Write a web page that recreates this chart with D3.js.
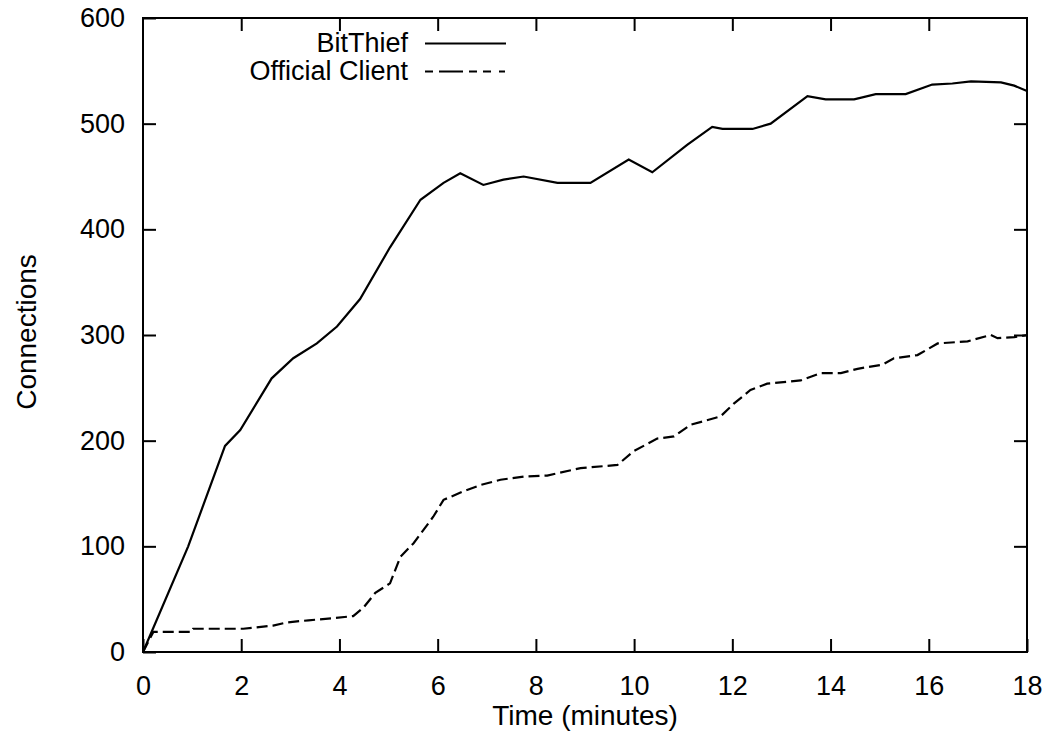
<!DOCTYPE html>
<html>
<head>
<meta charset="utf-8">
<script src="https://cdn.jsdelivr.net/npm/d3@7"></script>
<style>
  html, body { margin: 0; padding: 0; background: #fff; }
  svg { display: block; }
  text { font-family: "Liberation Sans", Arial, Helvetica, sans-serif; fill: #000; }
</style>
</head>
<body>
<svg id="chart" width="1048" height="736"></svg>
<script>
// ---- Data ----
const bitThiefTime = [0, 0.92, 1.67, 1.98, 2.62, 3.06, 3.54, 3.95, 4.42, 5.03, 5.65, 6.12, 6.46, 6.93, 7.34, 7.75, 8.44, 9.11, 9.89, 10.37, 11.08, 11.59, 11.80, 12.41, 12.78, 13.53, 13.90, 14.48, 14.92, 15.53, 16.07, 16.48, 16.86, 17.47, 17.74, 18.0];
const bitThiefConn = [0, 100, 195, 210, 259, 278, 292, 308, 334, 383, 428, 444, 453, 442, 447, 450, 444, 444, 466, 454, 480, 497, 495, 495, 500, 526, 523, 523, 528, 528, 537, 538, 540, 539, 536, 531];

const officialTime = [0, 0.21, 0.99, 1.02, 2.04, 2.65, 2.93, 3.37, 3.88, 4.28, 4.49, 4.73, 5.03, 5.24, 5.51, 5.91, 6.12, 6.52, 6.87, 7.28, 7.75, 8.23, 8.91, 9.66, 9.99, 10.47, 10.81, 11.15, 11.76, 12.03, 12.37, 12.71, 13.39, 13.80, 14.21, 14.55, 15.06, 15.29, 15.77, 16.18, 16.79, 17.26, 17.40, 17.74, 18.0];
const officialConn = [0, 19, 19, 22, 22, 25, 28, 30, 32, 34, 42, 56, 65, 90, 103, 128, 144, 152, 158, 163, 166, 167, 174, 177, 190, 202, 204, 215, 223, 235, 248, 254, 257, 264, 264, 268, 272, 278, 281, 292, 294, 300, 297, 298, 300];

const xTicks = [0, 2, 4, 6, 8, 10, 12, 14, 16, 18];
const yTicks = [0, 100, 200, 300, 400, 500, 600];
const seriesNames = ["BitThief", "Official Client"];
const xLabel = "Time (minutes)";
const yLabel = "Connections";

// ---- Layout ----
const W = 1048, H = 736;
const margin = { left: 143, right: 21, top: 18, bottom: 84 };
const iw = W - margin.left - margin.right;
const ih = H - margin.top - margin.bottom;
const tickLen = 13;
const fontSize = 27;

const svg = d3.select("#chart");
const g = svg.append("g").attr("transform", `translate(${margin.left},${margin.top})`);

const x = d3.scaleLinear().domain([0, 18]).range([0, iw]);
const y = d3.scaleLinear().domain([0, 600]).range([ih, 0]);

function styleAxis(sel, showLabels) {
  sel.select(".domain").remove();
  sel.selectAll(".tick line").attr("stroke", "#000").attr("stroke-width", 2);
  sel.selectAll(".tick text")
    .style("font-size", fontSize + "px")
    .style("font-family", '"Liberation Sans", Arial, sans-serif')
    .attr("fill", "#000");
  if (!showLabels) sel.selectAll(".tick text").remove();
}

// bottom axis (ticks inward)
g.append("g").attr("transform", `translate(0,${ih})`)
  .call(d3.axisBottom(x).tickValues(xTicks).tickSize(-tickLen).tickPadding(tickLen + 11).tickFormat(d3.format("d")))
  .call(s => styleAxis(s, true));
// top axis mirror
g.append("g")
  .call(d3.axisTop(x).tickValues(xTicks.slice(1, -1)).tickSize(-tickLen))
  .call(s => styleAxis(s, false));
// left axis
g.append("g")
  .call(d3.axisLeft(y).tickValues(yTicks).tickSize(-tickLen).tickPadding(tickLen + 5).tickFormat(d3.format("d")))
  .call(s => styleAxis(s, true));
// right axis mirror
g.append("g").attr("transform", `translate(${iw},0)`)
  .call(d3.axisRight(y).tickValues(yTicks.slice(1, -1)).tickSize(-tickLen))
  .call(s => styleAxis(s, false));

// frame
g.append("rect").attr("x", 0).attr("y", 0).attr("width", iw).attr("height", ih)
  .attr("fill", "none").attr("stroke", "#000").attr("stroke-width", 2);

// lines
const line = d3.line().x(d => x(d[0])).y(d => y(d[1]));
const btData = bitThiefTime.map((t, i) => [t, bitThiefConn[i]]);
const ocData = officialTime.map((t, i) => [t, officialConn[i]]);

g.append("path").datum(btData).attr("d", line)
  .attr("fill", "none").attr("stroke", "#000").attr("stroke-width", 2.2);
g.append("path").datum(ocData).attr("d", line)
  .attr("fill", "none").attr("stroke", "#000").attr("stroke-width", 2.2)
  .attr("stroke-dasharray", "11,5");

// legend
const legX = 408, legY = [52, 80];
const dashes = [null, "8,6,24,6,8,6,8"];
seriesNames.forEach((name, i) => {
  svg.append("text").attr("x", legX).attr("y", legY[i])
    .attr("text-anchor", "end").style("font-size", fontSize + "px").text(name);
  svg.append("line").attr("x1", 425).attr("x2", 506)
    .attr("y1", legY[i] - 8.5).attr("y2", legY[i] - 8.5)
    .attr("stroke", "#000").attr("stroke-width", 2.2)
    .attr("stroke-dasharray", dashes[i]);
});

// axis titles
svg.append("text").attr("x", margin.left + iw / 2).attr("y", 725)
  .attr("text-anchor", "middle").style("font-size", "28px").text(xLabel);
svg.append("text")
  .attr("transform", `translate(36,${margin.top + ih / 2 - 3}) rotate(-90)`)
  .attr("text-anchor", "middle").style("font-size", "28px").text(yLabel);
</script>
</body>
</html>
